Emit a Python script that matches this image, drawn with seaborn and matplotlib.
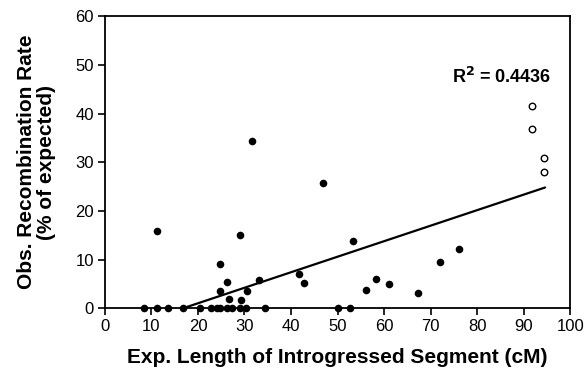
import numpy as np
import pandas as pd
import matplotlib
matplotlib.use("Agg")
import matplotlib.pyplot as plt
import seaborn as sns

# filled points (expected length cM, observed rate % of expected)
filled_x = [8.4, 11.3, 13.5, 16.8, 20.4, 22.7, 24.0, 24.8, 26.3, 27.4, 29.0, 30.4, 34.5,
            50.0, 52.6,
            11.3, 31.6, 29.1, 24.8, 26.2, 24.8, 26.6, 29.3, 30.6, 33.1,
            41.8, 42.7, 46.9, 53.3, 56.2, 58.3, 61.0, 67.4, 72.1, 76.0]
filled_y = [0, 0, 0, 0, 0, 0, 0, 0, 0, 0, 0, 0, 0,
            0, 0,
            15.9, 34.4, 15.1, 9.1, 5.3, 3.5, 2.0, 1.6, 3.5, 5.8,
            7.1, 5.1, 25.8, 13.9, 3.7, 6.0, 4.9, 3.1, 9.5, 12.2]

# open points
open_x = [91.8, 91.8, 94.4, 94.4]
open_y = [41.5, 36.9, 30.9, 27.9]

# trend line ends
line_x = [16.8, 94.6]
line_y = [0.0, 24.8]

r2_label = "R$^\\mathbf{2}$ = 0.4436"

sns.set_style("ticks")
plt.rcParams['font.family'] = ['Liberation Sans', 'DejaVu Sans']
plt.rcParams['text.color'] = 'black'
plt.rcParams['axes.labelcolor'] = 'black'
plt.rcParams['xtick.color'] = 'black'
plt.rcParams['ytick.color'] = 'black'

fig = plt.figure(figsize=(5.86, 3.75), dpi=100)
ax = fig.add_axes([0.179, 0.178, 0.794, 0.779])

filled_df = pd.DataFrame({'x': filled_x, 'y': filled_y})
open_df = pd.DataFrame({'x': open_x, 'y': open_y})
line_df = pd.DataFrame({'x': line_x, 'y': line_y})

sns.lineplot(data=line_df, x='x', y='y', ax=ax, color='black', linewidth=1.6, zorder=2)
sns.scatterplot(data=filled_df, x='x', y='y', ax=ax, color='black', s=30,
                edgecolor='black', linewidth=0, zorder=3, clip_on=False)
sns.scatterplot(data=open_df, x='x', y='y', ax=ax, facecolor='white', s=22,
                edgecolor='black', linewidth=1.0, zorder=3)

ax.set_xlim(0, 100)
ax.set_ylim(0, 60)
ax.set_xticks(np.arange(0, 101, 10))
ax.set_yticks(np.arange(0, 61, 10))
for s in ax.spines.values():
    s.set_visible(True)
    s.set_linewidth(1.3)
    s.set_color('black')
ax.tick_params(axis='both', direction='out', length=5, width=1.2, labelsize=12,
               colors='black', pad=3)
ax.set_xlabel("Exp. Length of Introgressed Segment (cM)", fontsize=15,
              fontweight='bold')
ax.set_ylabel("Obs. Recombination Rate\n(% of expected)", fontsize=15,
              fontweight='bold', linespacing=1.05)
ax.xaxis.set_label_coords(0.5, -0.135)
ax.yaxis.set_label_coords(-0.105, 0.5)
ax.text(96.0, 46.2, r2_label, fontsize=13, fontweight='bold', ha='right', va='baseline')

fig.savefig("out.png", dpi=100)
